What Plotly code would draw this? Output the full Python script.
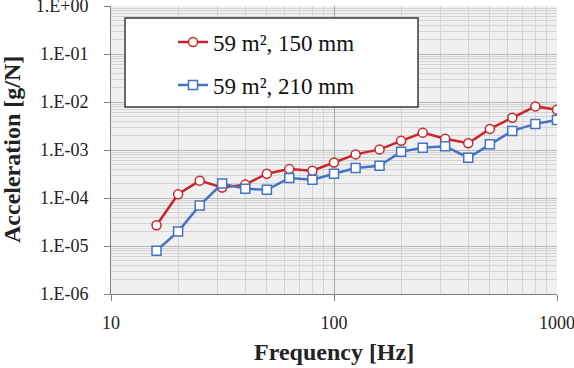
import plotly.graph_objects as go

freq = [16, 20, 25, 31.5, 40, 50, 63, 80, 100, 125, 160, 200, 250, 315, 400, 500, 630, 800, 1000]
acc_150 = [2.7e-5, 1.2e-4, 2.3e-4, 1.66e-4, 1.9e-4, 3.2e-4, 4.0e-4, 3.7e-4, 5.5e-4, 8.1e-4,
           1.03e-3, 1.56e-3, 2.3e-3, 1.72e-3, 1.38e-3, 2.75e-3, 4.7e-3, 8.1e-3, 6.9e-3]
acc_210 = [8e-6, 2.0e-5, 7e-5, 2.0e-4, 1.55e-4, 1.48e-4, 2.6e-4, 2.4e-4, 3.2e-4, 4.2e-4,
           4.7e-4, 9.2e-4, 1.12e-3, 1.2e-3, 6.9e-4, 1.31e-3, 2.5e-3, 3.5e-3, 4.2e-3]
name_150 = "59 m², 150 mm"
name_210 = "59 m², 210 mm"
y_tickvals = [1e-6, 1e-5, 1e-4, 1e-3, 1e-2, 1e-1, 1]
y_ticktext = ["1.E-06", "1.E-05", "1.E-04", "1.E-03", "1.E-02", "1.E-01", "1.E+00"]
x_tickvals = [10, 100, 1000]
x_ticktext = ["10", "100", "1000"]

RED = "#c8262b"
BLUE = "#4472c4"
SERIF = "Liberation Serif, Times New Roman, serif"

fig = go.Figure()
fig.add_trace(go.Scatter(
    x=freq, y=acc_150, name=name_150, mode="lines+markers",
    line=dict(color=RED, width=2.5),
    marker=dict(symbol="circle", size=9, color="white", line=dict(color=RED, width=1.5)),
    legend="legend",
))
fig.add_trace(go.Scatter(
    x=freq, y=acc_210, name=name_210, mode="lines+markers",
    line=dict(color=BLUE, width=2.5),
    marker=dict(symbol="square", size=9, color="white", line=dict(color=BLUE, width=1.5)),
    legend="legend2",
))

L, R, T, B = 111, 17, 6, 74
W, H = 574, 368
pw, ph = W - L - R, H - T - B

def px(x):
    return (x - L) / pw

def py(y):
    return (H - B - y) / ph

fig.update_layout(
    width=W, height=H,
    margin=dict(l=L, r=R, t=T, b=B, autoexpand=False),
    paper_bgcolor="white",
    plot_bgcolor="#f0f0f0",
    font=dict(family=SERIF, color="#222222"),
    showlegend=True,
    legend=dict(x=px(173), y=py(42), xanchor="left", yanchor="middle",
                bgcolor="rgba(0,0,0,0)", font=dict(size=23, family=SERIF, color="#111111")),
    legend2=dict(x=px(173), y=py(85), xanchor="left", yanchor="middle",
                 bgcolor="rgba(0,0,0,0)", font=dict(size=23, family=SERIF, color="#111111")),
    shapes=[dict(type="rect", xref="paper", yref="paper",
                 x0=px(125), x1=px(418), y0=py(107), y1=py(18),
                 line=dict(color="#3a3a3a", width=1.5), fillcolor="white", layer="above")],
    annotations=[
        dict(text="<b>Frequency [Hz]</b>", xref="paper", yref="paper",
             x=0.5, y=py(352), xanchor="center", yanchor="middle", showarrow=False,
             font=dict(size=24, family=SERIF, color="#222222")),
        dict(text="<b>Acceleration [g/N]</b>", xref="paper", yref="paper",
             x=px(12), y=0.5, xanchor="center", yanchor="middle", showarrow=False,
             textangle=-90, font=dict(size=24, family=SERIF, color="#222222")),
    ],
)

fig.update_xaxes(
    type="log", range=[1, 3], automargin=False,
    tickvals=x_tickvals, ticktext=x_ticktext,
    tickfont=dict(size=18, family=SERIF, color="#222222"),
    ticks="outside", ticklen=6, tickcolor="#808080",
    ticklabelstandoff=6, ticklabeloverflow="allow",
    showline=True, linecolor="#808080", linewidth=1,
    showgrid=True, gridcolor="#a8a8a8", gridwidth=1,
    minor=dict(dtick="D1", showgrid=True, gridcolor="#d2d2d2", gridwidth=1),
    zeroline=False,
)
fig.update_yaxes(
    type="log", range=[-6, 0], automargin=False,
    tickvals=y_tickvals, ticktext=y_ticktext,
    tickfont=dict(size=18, family=SERIF, color="#222222"),
    ticks="outside", ticklen=6, tickcolor="#808080",
    ticklabelstandoff=12, ticklabeloverflow="allow",
    showline=True, linecolor="#808080", linewidth=1,
    showgrid=True, gridcolor="#b8b8b8", gridwidth=1,
    minor=dict(dtick="D1", showgrid=True, gridcolor="#d2d2d2", gridwidth=1),
    zeroline=False,
)

fig.write_html("out.html")
